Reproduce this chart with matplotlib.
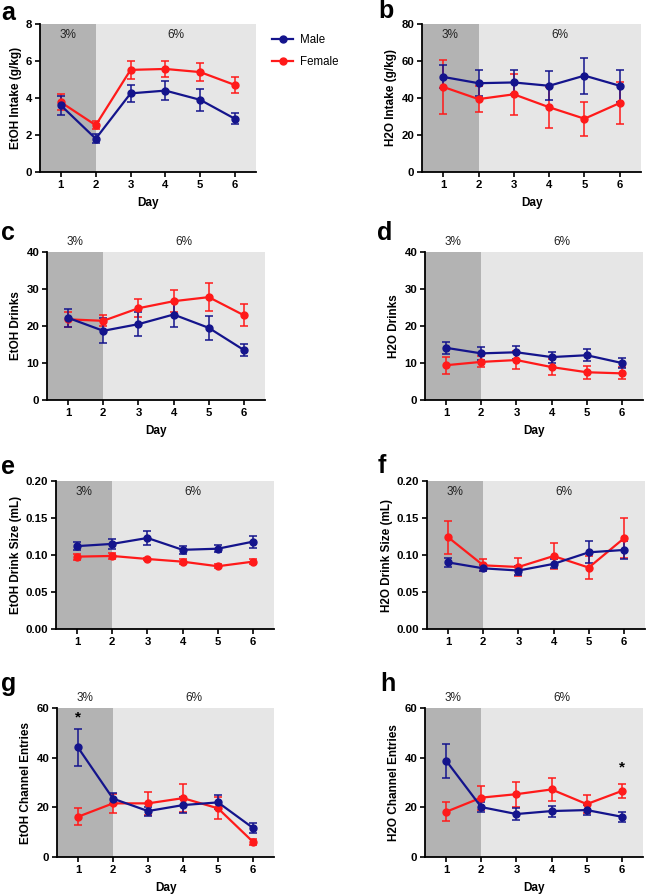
import matplotlib
matplotlib.use("Agg")
import matplotlib.pyplot as plt
from matplotlib.lines import Line2D

plt.rcParams['font.family'] = ['Liberation Sans', 'DejaVu Sans']

days = [1, 2, 3, 4, 5, 6]
day_labels = ["1", "2", "3", "4", "5", "6"]

# a: EtOH intake (g/kg)
a_male = [3.6, 1.8, 4.25, 4.4, 3.9, 2.87]
a_male_err = [0.5, 0.25, 0.45, 0.5, 0.58, 0.3]
a_female = [3.77, 2.53, 5.52, 5.57, 5.4, 4.7]
a_female_err = [0.42, 0.2, 0.5, 0.45, 0.5, 0.44]

# b: H2O intake (g/kg)
b_male = [51.4, 48.0, 48.4, 46.6, 52.1, 46.6]
b_male_err = [6.2, 7.0, 6.5, 7.8, 9.7, 8.7]
b_female = [46.0, 39.4, 42.0, 35.0, 28.8, 37.3]
b_female_err = [14.5, 7.2, 11.0, 11.0, 9.3, 11.4]

# c: EtOH drinks
c_male = [22.2, 18.7, 20.5, 23.1, 19.5, 13.5]
c_male_err = [2.5, 3.4, 3.2, 3.5, 3.2, 1.6]
c_female = [21.8, 21.4, 24.8, 26.7, 27.8, 22.9]
c_female_err = [2.0, 1.5, 2.4, 3.0, 3.7, 3.0]

# d: H2O drinks
d_male = [14.1, 12.6, 12.9, 11.6, 12.1, 10.0]
d_male_err = [1.6, 1.7, 1.8, 1.5, 1.6, 1.3]
d_female = [9.4, 10.3, 10.8, 8.9, 7.5, 7.2]
d_female_err = [2.3, 1.5, 2.4, 2.2, 1.8, 1.6]

# e: EtOH drink size (mL)
e_male = [0.112, 0.115, 0.123, 0.107, 0.1085, 0.118]
e_male_err = [0.005, 0.007, 0.009, 0.005, 0.005, 0.008]
e_female = [0.0978, 0.0987, 0.0946, 0.091, 0.0848, 0.091]
e_female_err = [0.004, 0.004, 0.002, 0.003, 0.003, 0.003]

# f: H2O drink size (mL)
f_male = [0.090, 0.082, 0.079, 0.088, 0.1036, 0.1068]
f_male_err = [0.006, 0.004, 0.006, 0.006, 0.015, 0.012]
f_female = [0.124, 0.086, 0.0838, 0.0986, 0.083, 0.1225]
f_female_err = [0.022, 0.008, 0.012, 0.017, 0.015, 0.027]

# g: EtOH channel entries
g_male = [44.1, 23.5, 18.5, 20.9, 22.0, 11.7]
g_male_err = [7.5, 2.3, 1.8, 3.2, 2.8, 2.0]
g_female = [16.2, 21.6, 21.6, 23.7, 19.6, 6.1]
g_female_err = [3.4, 3.8, 4.7, 5.5, 4.4, 1.2]

# h: H2O channel entries
h_male = [38.8, 20.1, 17.3, 18.5, 18.9, 16.2]
h_male_err = [6.8, 1.9, 2.4, 2.2, 2.0, 2.0]
h_female = [18.2, 23.9, 25.3, 27.2, 21.3, 26.6]
h_female_err = [3.8, 4.8, 5.0, 4.5, 3.5, 2.7]

MALE_C = '#14148c'
FEMALE_C = '#ff1a1a'
DARK = '#b3b3b3'
LIGHT = '#e6e6e6'

fig = plt.figure(figsize=(6.49, 8.96), dpi=100)
W, H = 649.0, 896.0

def make_ax(left, top, right, bottom):
    return fig.add_axes([left / W, 1 - bottom / H, (right - left) / W, (bottom - top) / H])

panels = [
    dict(letter='a', box=(40, 24, 256, 172), male=a_male, me=a_male_err, female=a_female, fe=a_female_err,
         ylim=(0, 8), yticks=[0, 2, 4, 6, 8], ylabel='EtOH Intake (g/kg)', fmt='{:.0f}', inside=True, xlabel=True,
         lpos=(1, 13)),
    dict(letter='b', box=(422, 24, 641, 172), male=b_male, me=b_male_err, female=b_female, fe=b_female_err,
         ylim=(0, 80), yticks=[0, 20, 40, 60, 80], ylabel='H2O Intake (g/kg)', fmt='{:.0f}', inside=True, xlabel=True,
         lpos=(378, 11)),
    dict(letter='c', box=(47, 252, 265, 400), male=c_male, me=c_male_err, female=c_female, fe=c_female_err,
         ylim=(0, 40), yticks=[0, 10, 20, 30, 40], ylabel='EtOH Drinks', fmt='{:.0f}', inside=False, xlabel=True,
         lpos=(1, 233)),
    dict(letter='d', box=(425, 252, 643, 400), male=d_male, me=d_male_err, female=d_female, fe=d_female_err,
         ylim=(0, 40), yticks=[0, 10, 20, 30, 40], ylabel='H2O Drinks', fmt='{:.0f}', inside=False, xlabel=True,
         lpos=(377, 233)),
    dict(letter='e', box=(56, 481, 274, 629), male=e_male, me=e_male_err, female=e_female, fe=e_female_err,
         ylim=(0, 0.2), yticks=[0, 0.05, 0.10, 0.15, 0.20], ylabel='EtOH Drink Size (mL)', fmt='{:.2f}', inside=True,
         xlabel=False, lpos=(1, 467)),
    dict(letter='f', box=(427, 481, 645, 629), male=f_male, me=f_male_err, female=f_female, fe=f_female_err,
         ylim=(0, 0.2), yticks=[0, 0.05, 0.10, 0.15, 0.20], ylabel='H2O Drink Size (mL)', fmt='{:.2f}', inside=True,
         xlabel=False, lpos=(378, 466)),
    dict(letter='g', box=(57, 708, 274, 857), male=g_male, me=g_male_err, female=g_female, fe=g_female_err,
         ylim=(0, 60), yticks=[0, 20, 40, 60], ylabel='EtOH Channel Entries', fmt='{:.0f}', inside=False, xlabel=True,
         lpos=(1, 684), star=(1, 56)),
    dict(letter='h', box=(425, 708, 643, 857), male=h_male, me=h_male_err, female=h_female, fe=h_female_err,
         ylim=(0, 60), yticks=[0, 20, 40, 60], ylabel='H2O Channel Entries', fmt='{:.0f}', inside=False, xlabel=True,
         lpos=(380, 684), star=(6, 36)),
]

XL = (0.4, 6.6)

for p in panels:
    ax = make_ax(*p['box'])
    ax.set_xlim(*XL)
    ax.set_ylim(*p['ylim'])
    ax.axvspan(XL[0], 2, color=DARK, lw=0, zorder=0)
    ax.axvspan(2, XL[1], color=LIGHT, lw=0, zorder=0)
    for vals, errs, col in ((p['female'], p['fe'], FEMALE_C), (p['male'], p['me'], MALE_C)):
        ax.errorbar(days, vals, yerr=errs, color=col, marker='o', markersize=5, lw=1.6,
                    elinewidth=1.1, capsize=2.8, capthick=1.1, zorder=3, clip_on=False)
    for s in ('top', 'right'):
        ax.spines[s].set_visible(False)
    for s in ('left', 'bottom'):
        ax.spines[s].set_linewidth(1.3)
    ax.set_xticks(days)
    ax.set_xticklabels(day_labels, fontweight='bold', fontsize=8.2)
    ax.set_yticks(p['yticks'])
    ax.set_yticklabels([p['fmt'].format(v) for v in p['yticks']], fontweight='bold', fontsize=8.2)
    ax.tick_params(direction='out', length=3.5, width=1.2, pad=2)
    ax.set_ylabel(p['ylabel'], fontweight='bold', fontsize=8.5, labelpad=3)
    if p['xlabel']:
        ax.set_xlabel('Day', fontweight='bold', fontsize=8.5, labelpad=5)
    ty = 0.925 if p['inside'] else 1.065
    ax.text((XL[0] + 2) / 2, ty, '3%', transform=ax.get_xaxis_transform(), ha='center', va='center',
            fontsize=8.5, color='#222222')
    ax.text(4.3, ty, '6%', transform=ax.get_xaxis_transform(), ha='center', va='center',
            fontsize=8.5, color='#222222')
    if 'star' in p:
        ax.text(p['star'][0], p['star'][1], '*', ha='center', va='center', fontsize=11, fontweight='bold')
    fig.text(p['lpos'][0] / W, 1 - p['lpos'][1] / H, p['letter'], fontsize=18, fontweight='bold',
             ha='left', va='center')

handles = [Line2D([0], [0], color=MALE_C, marker='o', markersize=5, lw=1.6),
           Line2D([0], [0], color=FEMALE_C, marker='o', markersize=5, lw=1.6)]
fig.legend(handles, ['Male', 'Female'], loc='upper left', bbox_to_anchor=(262 / W, 1 - 24 / H),
           frameon=False, fontsize=8.3, handlelength=1.8, handletextpad=0.6, labelspacing=0.85)

fig.savefig('out.png', dpi=100)
